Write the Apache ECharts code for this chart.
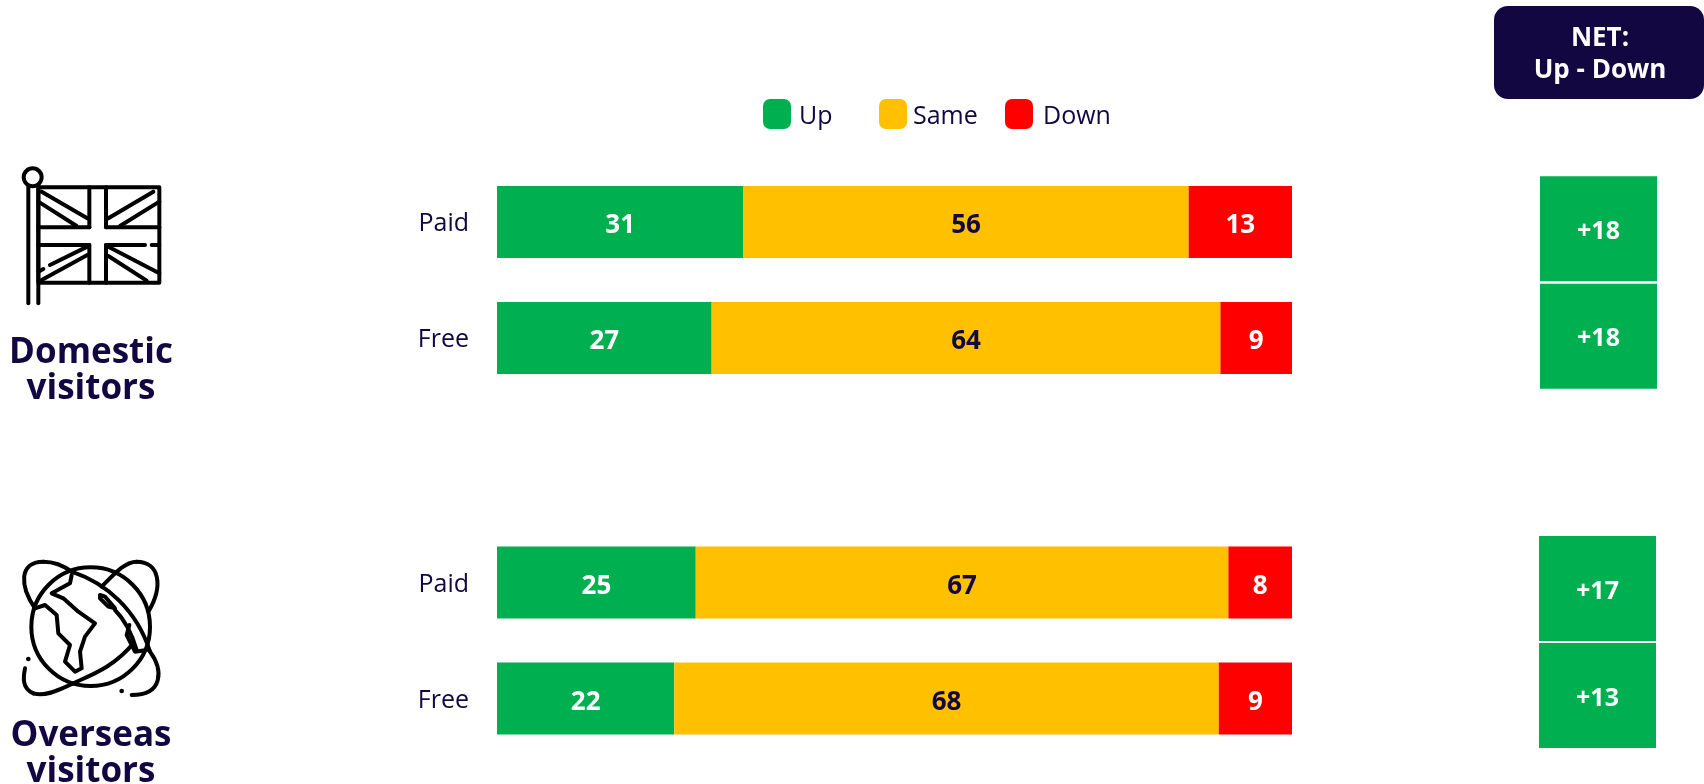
<!DOCTYPE html>
<html>
<head>
<meta charset="utf-8">
<title>Visitors: up, same, down</title>
<script src="https://cdn.jsdelivr.net/npm/echarts@6/dist/echarts.min.js"></script>
<style>
  html, body { margin: 0; padding: 0; background: #fff; }
  #chart { width: 1704px; height: 784px; }
</style>
</head>
<body>
<div id="chart"></div>
<script>
const categories = ['Paid', 'Free']
const domesticUp = [31, 27]
const domesticSame = [56, 64]
const domesticDown = [13, 9]
const overseasUp = [25, 22.3]
const overseasSame = [67, 68.49]
const overseasDown = [8, 9.21]
const domesticNet = [18, 18]
const overseasNet = [17, 13]

const NAVY = '#130742'
const GREEN = '#00b050'
const YELLOW = '#ffc000'
const RED = '#ff0000'
const FONT = '"Open Sans", "Noto Sans", sans-serif'

const chart = echarts.init(document.getElementById('chart'), null, { renderer: 'canvas' })

// one stacked bar series
function stackSeries (name, data, axisIndex, color, labelColor) {
  return {
    name,
    type: 'bar',
    stack: 'g' + axisIndex,
    xAxisIndex: axisIndex,
    yAxisIndex: axisIndex,
    barWidth: 72,
    data,
    itemStyle: { color },
    label: {
      show: true,
      position: 'inside',
      offset: [0, 4],
      color: labelColor,
      fontFamily: FONT,
      fontWeight: 'bold',
      fontSize: 26,
      formatter: p => Math.round(p.value)
    },
    emphasis: { disabled: true }
  }
}

// NET boxes sit on their own category grid
function netSeries (values, axisIndex) {
  return {
    type: 'scatter',
    xAxisIndex: axisIndex,
    yAxisIndex: axisIndex,
    symbol: 'rect',
    symbolSize: [117, 105],
    data: values.map((v, i) => ['NET', categories[i], v]),
    encode: { x: 0, y: 1 },
    itemStyle: { color: GREEN, opacity: 1 },
    label: {
      show: true,
      position: 'inside',
      offset: [0, 3],
      color: '#fff',
      fontFamily: FONT,
      fontWeight: 'bold',
      fontSize: 25,
      formatter: p => '+' + p.value[2]
    },
    emphasis: { disabled: true }
  }
}

function barAxes (gridIndex) {
  return {
    x: {
      type: 'value',
      gridIndex,
      min: 0,
      max: 100,
      show: false
    },
    y: {
      type: 'category',
      gridIndex,
      inverse: true,
      data: categories,
      axisLine: { show: false },
      axisTick: { show: false },
      axisLabel: {
        margin: 28,
        formatter: v => '{a|' + v + '}',
        rich: {
          // plain padding does not move the text, rich padding does
          a: { color: NAVY, fontFamily: FONT, fontSize: 25, padding: [4, 0, 0, 0] }
        }
      }
    }
  }
}

function netAxes (gridIndex) {
  return {
    x: { type: 'category', gridIndex, data: ['NET'], show: false },
    y: { type: 'category', gridIndex, inverse: true, data: categories, show: false }
  }
}

const axes = [barAxes(0), barAxes(1), netAxes(2), netAxes(3)]

function legendItem (name, left, textGap) {
  return {
    data: [name],
    left,
    top: 99,
    icon: 'roundRect',
    itemWidth: 28,
    itemHeight: 30,
    selectedMode: false,
    padding: 0,
    formatter: n => '{a|' + n + '}',
    textStyle: {
      rich: {
        a: { color: NAVY, fontFamily: FONT, fontSize: 25, padding: [6, 0, 0, textGap] }
      }
    }
  }
}

// flag and globe are drawn at 3x and scaled down
const iconStyle = { stroke: '#000', lineWidth: 12, fill: null, lineJoin: 'round', lineCap: 'round' }
const line = l => ({
  type: 'line',
  shape: { x1: l[0], y1: l[1], x2: l[2], y2: l[3] },
  style: iconStyle
})
const flagLines = [
  [85, 108, 85, 460], [115, 108, 115, 460],
  [268, 112, 268, 232], [318, 112, 318, 232], [268, 285, 268, 398], [318, 285, 318, 398],
  [115, 232, 268, 232], [318, 232, 478, 232], [115, 285, 268, 285], [318, 285, 435, 285], [455, 285, 478, 285],
  [125, 125, 262, 205], [115, 155, 230, 228], [325, 205, 460, 125], [360, 228, 478, 155],
  [150, 345, 262, 290], [115, 365, 130, 357], [125, 390, 262, 315],
  [325, 290, 478, 370], [325, 318, 440, 392]
]
const flagIcon = {
  type: 'group',
  x: 0,
  y: 150,
  scaleX: 1 / 3,
  scaleY: 1 / 3,
  children: [
    { type: 'circle', shape: { cx: 98, cy: 82, r: 27 }, style: iconStyle },
    { type: 'rect', shape: { x: 115, y: 112, width: 363, height: 286 }, style: iconStyle }
  ].concat(flagLines.map(line))
}

const curve = c => ({
  type: 'bezierCurve',
  shape: { x1: c[0], y1: c[1], cpx1: c[2], cpy1: c[3], cpx2: c[4], cpy2: c[5], x2: c[6], y2: c[7] },
  style: iconStyle
})
const poly = (type, points) => ({ type, shape: { points }, style: iconStyle })
const globeCurves = [
  [105, 205, 60, 140, 55, 65, 130, 65],
  [130, 65, 165, 65, 195, 80, 215, 95],
  [215, 95, 320, 130, 410, 210, 450, 335],
  [450, 335, 490, 390, 490, 465, 395, 465],
  [445, 215, 490, 140, 480, 65, 410, 65],
  [410, 65, 375, 65, 345, 100, 305, 140],
  [400, 310, 340, 385, 260, 410, 220, 430],
  [220, 430, 170, 455, 130, 470, 100, 460],
  [100, 460, 65, 445, 70, 410, 75, 385],
  [345, 210, 370, 235, 395, 280, 410, 330]
]
const continent = [[215, 105], [210, 130], [155, 160], [190, 175], [235, 215], [285, 250], [255, 290], [240, 335], [245, 385], [225, 395], [195, 365], [210, 315], [175, 280], [170, 225], [135, 195], [105, 205]]
const island = [[300, 165], [315, 170], [345, 205], [325, 200], [300, 175]]
const lens = [[388, 255], [380, 285], [405, 335], [440, 330]]
const globeIcon = {
  type: 'group',
  x: 0,
  y: 540,
  scaleX: 1 / 3,
  scaleY: 1 / 3,
  children: [
    { type: 'circle', shape: { cx: 272, cy: 260, r: 178 }, style: iconStyle },
    { type: 'circle', shape: { cx: 85, cy: 357, r: 7 }, style: { fill: '#000' } },
    { type: 'circle', shape: { cx: 365, cy: 453, r: 7 }, style: { fill: '#000' } },
    poly('polyline', continent),
    poly('polygon', island),
    poly('polyline', lens)
  ].concat(globeCurves.map(curve))
}

function sideTitle (text, y) {
  return {
    type: 'text',
    x: 91,
    y,
    style: {
      text,
      fill: NAVY,
      font: 'bold 35px ' + FONT,
      align: 'center',
      verticalAlign: 'middle',
      lineHeight: 36
    }
  }
}

const option = {
  animation: false,
  backgroundColor: '#fff',
  tooltip: { show: false },
  legend: [legendItem('Up', 763, 3), legendItem('Same', 879, 1), legendItem('Down', 1005, 5)],
  grid: [
    { left: 497, width: 795, top: 164, height: 232 },
    { left: 497, width: 795, top: 524.5, height: 232 },
    { left: 1540, width: 117, top: 175, height: 215 },
    { left: 1539, width: 117, top: 535, height: 214 }
  ],
  xAxis: axes.map(a => a.x),
  yAxis: axes.map(a => a.y),
  series: [
    stackSeries('Up', domesticUp, 0, GREEN, '#fff'),
    stackSeries('Same', domesticSame, 0, YELLOW, NAVY),
    stackSeries('Down', domesticDown, 0, RED, '#fff'),
    stackSeries('Up', overseasUp, 1, GREEN, '#fff'),
    stackSeries('Same', overseasSame, 1, YELLOW, NAVY),
    stackSeries('Down', overseasDown, 1, RED, '#fff'),
    netSeries(domesticNet, 2),
    netSeries(overseasNet, 3)
  ],
  graphic: [
    flagIcon,
    globeIcon,
    sideTitle('Domestic\nvisitors', 371),
    sideTitle('Overseas\nvisitors', 754),
    {
      type: 'rect',
      shape: { x: 1494, y: 6, width: 210, height: 93, r: 14 },
      style: { fill: NAVY }
    },
    {
      type: 'text',
      x: 1600,
      y: 55,
      style: {
        text: 'NET:\nUp - Down',
        fill: '#fff',
        font: 'bold 26px ' + FONT,
        align: 'center',
        verticalAlign: 'middle',
        lineHeight: 32
      }
    }
  ]
}

chart.setOption(option)
</script>
</body>
</html>
